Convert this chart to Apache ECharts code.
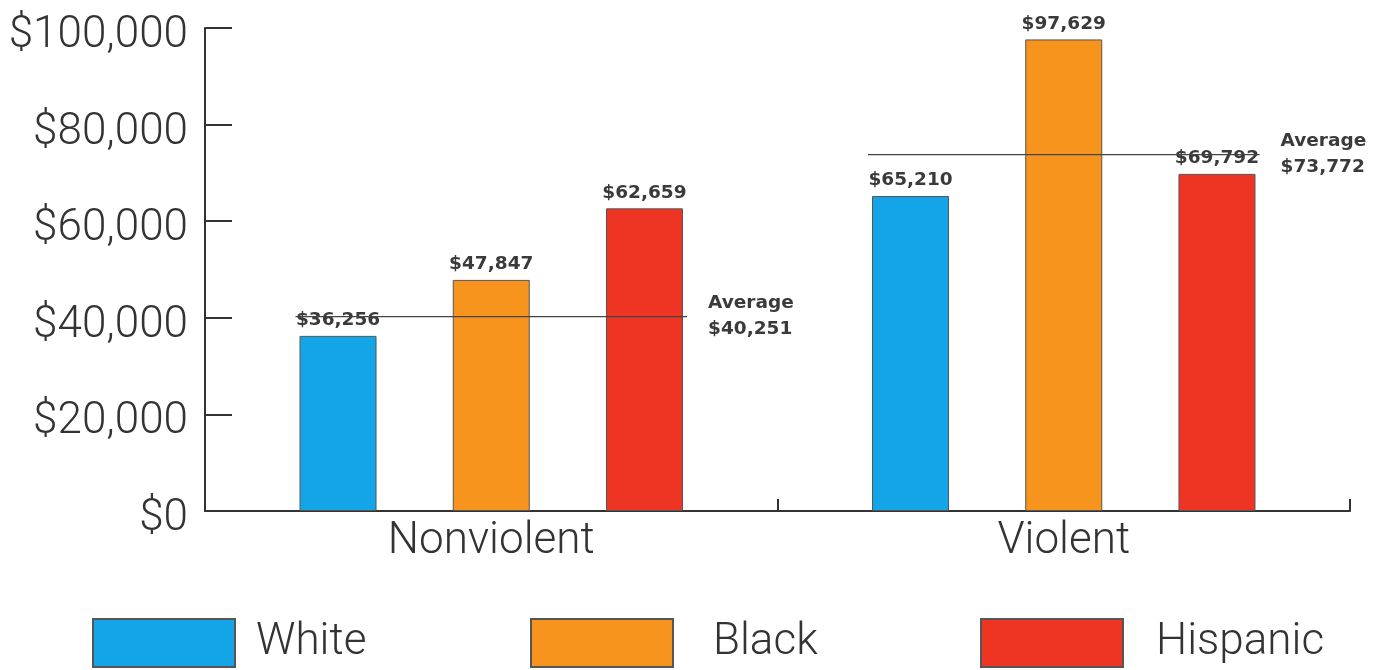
<!DOCTYPE html>
<html>
<head>
<meta charset="utf-8">
<script src="https://cdn.jsdelivr.net/npm/echarts@6/dist/echarts.min.js"></script>
<style>
  html, body { margin: 0; padding: 0; background: #fff; }
  #chart { width: 1380px; height: 670px; }
</style>
</head>
<body>
<div id="chart"></div>
<script>
// ---- data ----
const categories = ['Nonviolent', 'Violent'];
const seriesNames = ['White', 'Black', 'Hispanic'];
const whiteValues = [36256, 65210];
const blackValues = [47847, 97629];
const hispanicValues = [62659, 69792];
const averageValues = [40251, 73772];
const yTicks = [0, 20000, 40000, 60000, 80000, 100000];

// ---- styles ----
const colors = ['#13A5E7', '#F7941E', '#EE3524'];
const textDark = '#3a3a3c';
const fmt = v => '$' + v.toLocaleString('en-US');

const chart = echarts.init(document.getElementById('chart'), null, { renderer: 'canvas' });

const valuesBySeries = [whiteValues, blackValues, hispanicValues];

const barSeries = seriesNames.map((name, i) => ({
  name: name,
  type: 'bar',
  data: valuesBySeries[i],
  barWidth: 77,
  barGap: '99%',
  itemStyle: { color: colors[i], borderColor: '#555', borderWidth: 1 },
  label: {
    show: true,
    position: 'top',
    distance: 6,
    formatter: p => fmt(p.value),
    fontFamily: 'DejaVu Sans',
    fontWeight: 'bold',
    fontSize: 18.5,
    color: textDark
  },
  z: 2
}));

const avgSeries = {
  type: 'custom',
  name: 'Average',
  data: averageValues.map((v, i) => [i, v]),
  encode: { x: 0, y: 1 },
  z: 5,
  silent: true,
  renderItem: function (params, api) {
    const idx = api.value(0);
    const val = api.value(1);
    const pt = api.coord([idx, val]);
    const w = api.size([1, 0])[0];
    const x0 = pt[0] - w * 0.342;
    const x1 = pt[0] + w * 0.342;
    return {
      type: 'group',
      children: [
        {
          type: 'line',
          shape: { x1: x0, y1: pt[1], x2: x1, y2: pt[1] },
          style: { stroke: '#444', lineWidth: 1.2 }
        },
        {
          type: 'text',
          x: x1 + 21,
          y: pt[1],
          style: {
            text: 'Average\n' + fmt(val),
            fontFamily: 'DejaVu Sans',
            fontWeight: 'bold',
            fontSize: 18.5,
            lineHeight: 26,
            fill: textDark,
            align: 'left',
            verticalAlign: 'middle'
          }
        }
      ]
    };
  }
};

function legendFor(name, left, gapPad) {
  return {
    data: [name],
    left: left,
    top: 618,
    padding: 0,
    orient: 'horizontal',
    icon: 'rect',
    itemWidth: 142,
    itemHeight: 48,
    selectedMode: false,
    textStyle: {
      fontFamily: 'Roboto',
      fontWeight: 300,
      fontSize: 44,
      color: '#333',
      padding: [0, 0, 0, gapPad]
    }
  };
}

const option = {
  animation: false,
  backgroundColor: '#ffffff',
  color: colors,
  grid: { left: 205, right: 30, top: 28, bottom: 159, containLabel: false },
  legend: [
    legendFor('White', 92, 16),
    legendFor('Black', 530, 35),
    legendFor('Hispanic', 980, 28)
  ],
  xAxis: {
    type: 'category',
    data: categories,
    axisLine: { show: true, lineStyle: { color: '#333', width: 2 } },
    axisTick: { show: true, inside: true, length: 12, lineStyle: { color: '#333', width: 2 } },
    axisLabel: {
      fontFamily: 'Roboto',
      fontWeight: 300,
      fontSize: 44,
      color: '#333',
      margin: 9
    },
    splitLine: { show: false }
  },
  yAxis: {
    type: 'value',
    min: yTicks[0],
    max: yTicks[yTicks.length - 1],
    interval: yTicks[1] - yTicks[0],
    axisLine: { show: true, lineStyle: { color: '#333', width: 2 } },
    axisTick: { show: true, inside: true, length: 27, lineStyle: { color: '#333', width: 2 } },
    splitLine: { show: false },
    axisLabel: {
      formatter: v => '{a|' + fmt(v) + '}',
      margin: 17,
      rich: {
        a: {
          fontFamily: 'Roboto',
          fontWeight: 300,
          fontSize: 44,
          color: '#333',
          padding: [16, 0, 0, 0]
        }
      }
    }
  },
  series: [...barSeries, avgSeries]
};

chart.setOption(option);
</script>
</body>
</html>
